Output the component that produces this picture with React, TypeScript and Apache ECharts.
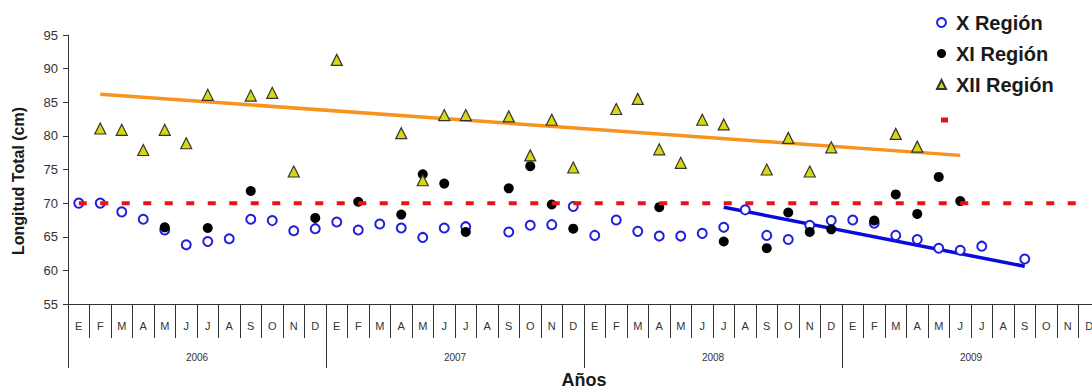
import React, { useEffect, useRef } from "react";
import * as echarts from "echarts";

const monthLetters = ["E", "F", "M", "A", "M", "J", "J", "A", "S", "O", "N", "D"];
const years = ["2006", "2007", "2008", "2009"];
const months: string[] = years.flatMap(() => monthLetters);

const xRegion: (number | null)[] = [
  70.0, 70.0, 68.7, 67.6, 66.0, 63.8, 64.3, 64.7, 67.6, 67.4, 65.9, 66.2,
  67.2, 66.0, 66.9, 66.3, 64.9, 66.3, 66.5, null, 65.7, 66.7, 66.8, 69.5,
  65.2, 67.5, 65.8, 65.1, 65.1, 65.5, 66.4, 69.0, 65.2, 64.6, 66.7, 67.4,
  67.5, 67.0, 65.2, 64.6, 63.3, 63.0, 63.6, null, 61.7, null, null, null,
];
const xiRegion: (number | null)[] = [
  null, null, null, null, 66.4, null, 66.3, null, 71.8, null, null, 67.8,
  null, 70.2, null, 68.3, 74.3, 72.9, 65.7, null, 72.2, 75.5, 69.8, 66.2,
  null, null, null, 69.4, null, null, 64.3, null, 63.3, 68.6, 65.7, 66.1,
  null, 67.4, 71.3, 68.4, 73.9, 70.3, null, null, null, null, null, null,
];
const xiiRegion: (number | null)[] = [
  null, 81.1, 80.9, 77.9, 80.9, 78.9, 86.1, null, 86.0, 86.4, 74.7, null,
  91.3, null, null, 80.4, 73.4, 83.1, 83.1, null, 82.9, 77.1, 82.4, 75.3,
  null, 84.0, 85.5, 78.0, 76.0, 82.4, 81.7, null, 75.0, 79.7, 74.7, 78.3,
  null, null, 80.3, 78.4, null, null, null, null, null, null, null, null,
];
// trend line endpoints: [monthIndex, value]
const xiiTrend: [number, number][] = [[1, 86.2], [41, 77.1]];
const xTrend: [number, number][] = [[30, 69.4], [44, 60.6]];
const referenceValue = 70;

const FONT = "'Liberation Sans', Arial, Helvetica, sans-serif";

const toSeries = (arr: (number | null)[]) => arr.map((v) => (v == null ? "-" : v));
const trendSeries = (pts: [number, number][]) => {
  const out: (number | string)[] = months.map(() => "-");
  pts.forEach(([i, v]) => (out[i] = v));
  return out;
};

export default function App() {
  const ref = useRef<HTMLDivElement>(null);
  useEffect(() => {
    if (!ref.current) return;
    const chart = echarts.init(ref.current, undefined, { renderer: "svg" });
    chart.setOption({
      animation: false,
      backgroundColor: "#ffffff",
      textStyle: { fontFamily: FONT },
      grid: { left: 68, right: 0, top: 35, bottom: 88, containLabel: false },
      legend: [
        {
          orient: "vertical",
          left: 936,
          top: 11,
          padding: 0,
          itemGap: 8,
          itemWidth: 9,
          itemHeight: 9,
          selectedMode: false,
          textStyle: {
            fontFamily: FONT,
            fontSize: 20,
            fontWeight: "bold",
            color: "#1a1a1a",
            lineHeight: 23,
            padding: [0, 0, 0, 5],
          },
          data: [
            { name: "X Región", icon: "emptyCircle" },
            { name: "XI Región", icon: "circle" },
            { name: "XII Región", icon: "triangle" },
          ],
        },
        {
          left: 941,
          top: 115,
          padding: 0,
          itemWidth: 7,
          itemHeight: 5,
          selectedMode: false,
          textStyle: { fontSize: 10 },
          data: [{ name: " ", icon: "rect" }],
        },
      ],
      xAxis: [
        {
          type: "category",
          data: months,
          boundaryGap: true,
          position: "bottom",
          offset: 0,
          axisLine: { show: true, lineStyle: { color: "#333", width: 1 } },
          axisTick: { show: true, interval: 0, length: 34, lineStyle: { color: "#333", width: 1 } },
          axisLabel: { interval: 0, margin: 16, fontSize: 11, color: "#333", fontFamily: FONT },
          splitLine: { show: false },
        },
        {
          type: "category",
          data: years,
          boundaryGap: true,
          position: "bottom",
          offset: 0,
          axisLine: { show: false },
          axisTick: { show: true, interval: 0, length: 64, lineStyle: { color: "#333", width: 1 } },
          axisLabel: { interval: 0, margin: 48, fontSize: 10, color: "#333", fontFamily: FONT },
          splitLine: { show: false },
        },
      ],
      yAxis: {
        type: "value",
        min: 55,
        max: 95,
        interval: 5,
        axisLine: { show: true, lineStyle: { color: "#333", width: 1 } },
        axisTick: { show: true, length: 5, lineStyle: { color: "#333" } },
        axisLabel: { fontSize: 13, color: "#333", margin: 10, fontFamily: FONT },
        splitLine: { show: false },
      },
      graphic: [
        {
          type: "text",
          x: 18,
          y: 181,
          rotation: Math.PI / 2,
          style: {
            text: "Longitud Total (cm)",
            fontFamily: FONT,
            fontSize: 16,
            fontWeight: "bold",
            fill: "#1a1a1a",
            align: "center",
            verticalAlign: "middle",
          },
        },
        {
          type: "text",
          x: 584,
          y: 380,
          style: {
            text: "Años",
            fontFamily: FONT,
            fontSize: 18,
            fontWeight: "bold",
            fill: "#1a1a1a",
            align: "center",
            verticalAlign: "middle",
          },
        },
      ],
      series: [
        {
          name: "xiiTrend",
          type: "line",
          data: trendSeries(xiiTrend),
          connectNulls: true,
          symbol: "none",
          lineStyle: { color: "#f7931e", width: 3.5 },
          itemStyle: { color: "#f7931e" },
          z: 1,
          silent: true,
        },
        {
          name: "xTrend",
          type: "line",
          data: trendSeries(xTrend),
          connectNulls: true,
          symbol: "none",
          lineStyle: { color: "#0a0adc", width: 3.5 },
          itemStyle: { color: "#0a0adc" },
          z: 1,
          silent: true,
        },
        {
          name: "X Región",
          type: "scatter",
          data: toSeries(xRegion),
          symbol: "emptyCircle",
          symbolSize: 9,
          itemStyle: { color: "#2020dc", borderColor: "#2020dc", borderWidth: 1.8, opacity: 1 },
          z: 3,
        },
        {
          name: "XI Región",
          type: "scatter",
          data: toSeries(xiRegion),
          symbol: "circle",
          symbolSize: 10,
          itemStyle: { color: "#000000", opacity: 1 },
          z: 3,
        },
        {
          name: "XII Región",
          type: "scatter",
          data: toSeries(xiiRegion),
          symbol: "triangle",
          symbolSize: 11,
          itemStyle: { color: "#d8d810", borderColor: "#333333", borderWidth: 1.2, opacity: 1 },
          z: 3,
        },
        {
          name: " ",
          type: "line",
          data: months.map(() => referenceValue),
          symbol: "none",
          lineStyle: { color: "#e5141c", width: 4, type: [8, 13.5] },
          itemStyle: { color: "#e5141c" },
          z: 4,
          silent: true,
        },
      ],
    });
    return () => chart.dispose();
  }, []);
  return (
    <div
      ref={ref}
      style={{ position: "fixed", left: 0, top: 0, width: 1100, height: 392, background: "#fff" }}
    />
  );
}
